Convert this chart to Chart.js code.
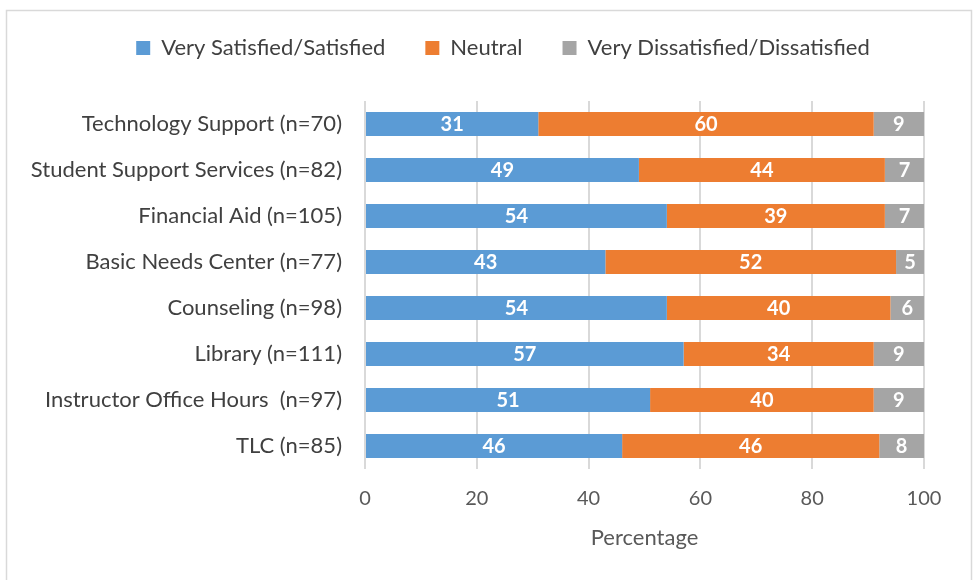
<!DOCTYPE html>
<html>
<head>
<meta charset="utf-8">
<script src="https://cdn.jsdelivr.net/npm/chart.js@4/dist/chart.umd.min.js"></script>
<style>
html,body{margin:0;padding:0;background:#fff;}
#wrap{width:976px;height:580px;position:relative;}
</style>
</head>
<body>
<div id="wrap"><canvas id="c" width="976" height="580"></canvas></div>
<script>
const categories = [
  "Technology Support (n=70)",
  "Student Support Services (n=82)",
  "Financial Aid (n=105)",
  "Basic Needs Center (n=77)",
  "Counseling (n=98)",
  "Library (n=111)",
  "Instructor Office Hours  (n=97)",
  "TLC (n=85)"
];
const satisfied   = [31, 49, 54, 43, 54, 57, 51, 46];
const neutral     = [60, 44, 39, 52, 40, 34, 40, 46];
const dissatisfied= [9, 7, 7, 5, 6, 9, 9, 8];
const seriesNames = ["Very Satisfied/Satisfied", "Neutral", "Very Dissatisfied/Dissatisfied"];
const xTicks = [0, 20, 40, 60, 80, 100];

const FONT = "Lato, 'Open Sans', sans-serif";

const frame = {
  id: 'frame',
  beforeDraw(chart) {
    const ctx = chart.ctx;
    ctx.save();
    ctx.fillStyle = '#fff';
    ctx.fillRect(0, 0, chart.width, chart.height);
    ctx.strokeStyle = '#d9d9d9';
    ctx.lineWidth = 1.5;
    ctx.strokeRect(6.5, 10.5, 965, 572);
    ctx.restore();
  }
};

const legendSpace = {
  id: 'legendSpace',
  beforeLayout(chart) {
    const lg = chart.legend;
    if (lg && !lg._patched) {
      const orig = lg.fit;
      lg.fit = function () { orig.call(this); this.height += 32; };
      lg._patched = true;
    }
  },
  afterLayout(chart) {
    const lg = chart.legend;
    if (lg) { lg.left += 41; lg.right += 41; }
  }
};

const valueLabels = {
  id: 'valueLabels',
  afterDatasetsDraw(chart) {
    const ctx = chart.ctx;
    ctx.save();
    ctx.fillStyle = '#ffffff';
    ctx.font = "bold 20px " + FONT;
    ctx.textAlign = 'center';
    ctx.textBaseline = 'middle';
    chart.data.datasets.forEach((ds, i) => {
      const meta = chart.getDatasetMeta(i);
      meta.data.forEach((el, j) => {
        const p = el.getCenterPoint();
        ctx.fillText(String(ds.data[j]), p.x, p.y + 1);
      });
    });
    ctx.restore();
  }
};

new Chart(document.getElementById('c'), {
  type: 'bar',
  data: {
    labels: categories,
    datasets: [
      { label: seriesNames[0], data: satisfied, backgroundColor: '#5B9BD5' },
      { label: seriesNames[1], data: neutral, backgroundColor: '#ED7D31' },
      { label: seriesNames[2], data: dissatisfied, backgroundColor: '#A5A5A5' }
    ]
  },
  options: {
    indexAxis: 'y',
    responsive: false,
    animation: false,
    devicePixelRatio: 1,
    datasets: { bar: { barPercentage: 1, categoryPercentage: 0.52 } },
    layout: { padding: { top: -3, right: 52, bottom: 0, left: 0 } },
    plugins: {
      legend: {
        display: true,
        position: 'top',
        labels: {
          font: { family: FONT, size: 22 },
          color: '#404040',
          boxWidth: 14,
          boxHeight: 14,
          padding: 40
        }
      },
      tooltip: { enabled: false }
    },
    scales: {
      x: {
        stacked: true,
        min: 0,
        max: 100,
        afterBuildTicks(scale) { scale.ticks = xTicks.map(v => ({ value: v })); },
        afterFit(scale) { scale.height = 111; },
        grid: { color: '#d9d9d9', lineWidth: 2, drawTicks: false },
        border: { display: false },
        ticks: { font: { family: FONT, size: 20 }, color: '#595959', padding: 18 },
        title: {
          display: true,
          text: 'Percentage',
          font: { family: FONT, size: 22 },
          color: '#595959',
          padding: { top: 4, bottom: 29 }
        }
      },
      y: {
        stacked: true,
        afterFit(scale) { scale.width = 365; },
        grid: { display: false },
        border: { display: false },
        ticks: { font: { family: FONT, size: 22 }, color: '#404040', padding: 15 }
      }
    }
  },
  plugins: [frame, legendSpace, valueLabels]
});
</script>
</body>
</html>
